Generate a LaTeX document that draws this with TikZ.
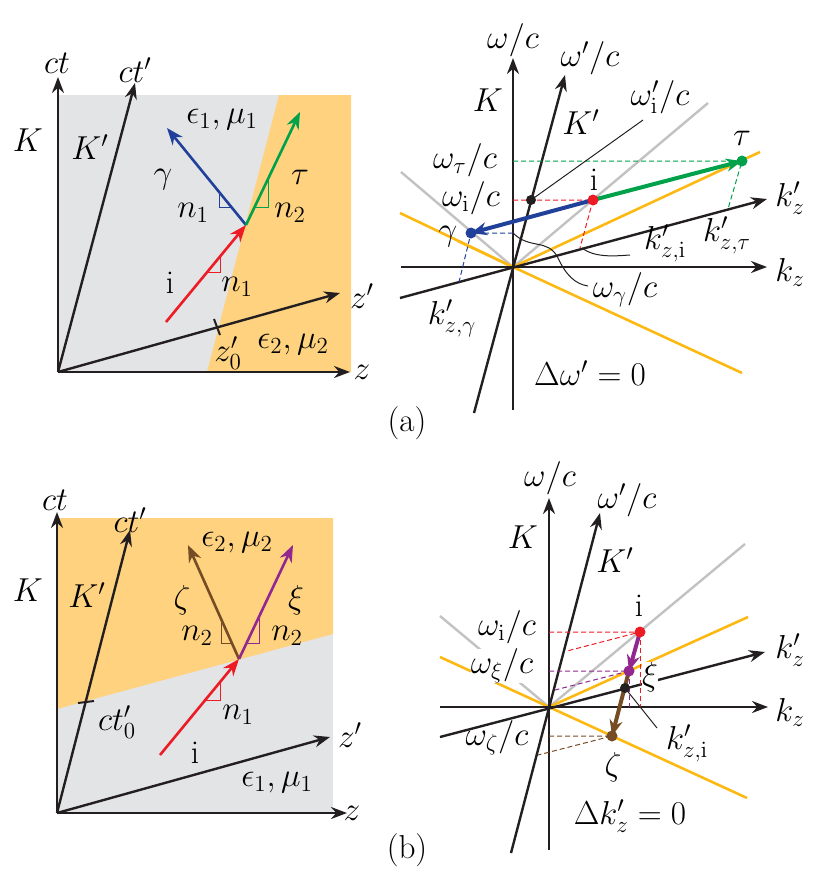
\documentclass[tikz,border=0pt]{standalone}
\usetikzlibrary{arrows.meta}
\definecolor{bgray}{HTML}{E3E4E6}
\definecolor{bor}{HTML}{FED27F}
\definecolor{lor}{HTML}{FDB913}
\definecolor{cred}{HTML}{ED1C24}
\definecolor{cblue}{HTML}{21409A}
\definecolor{cgreen}{HTML}{00A14B}
\definecolor{cpurp}{HTML}{92278F}
\definecolor{cbrown}{HTML}{754C24}
\definecolor{cone}{HTML}{C2C2C2}
\definecolor{ink}{HTML}{231F20}
\begin{document}
\begin{tikzpicture}[x=1pt,y=-1pt,
  ax/.style={draw=ink,line width=2.4pt,-{Stealth[length=16pt,width=12pt]}},
  axl/.style={draw=ink,line width=2pt},
  ray/.style={line width=2.6pt,-{Stealth[length=17pt,width=13pt]}},
  kray/.style={line width=4pt,-{Stealth[length=16pt,width=13pt]}},
  ra/.style={line width=1pt},
  dsh/.style={dashed,line width=1pt,dash pattern=on 5pt off 3pt},
  conel/.style={draw=cone,line width=2.4pt},
  orl/.style={draw=lor,line width=2.6pt},
  dot/.style={circle,inner sep=0pt,minimum size=11pt},
  lb/.style={inner sep=0.6pt,scale=1.6,font=\fontsize{20.74}{25}\selectfont},
  wl/.style={lb,fill=white,inner sep=0pt}]
\useasboundingbox (0,0) rectangle (832,876);
% ================= (a) left
\fill[bgray] (58,95) rectangle (351,372);
\fill[bor] (279,95) -- (351,95) -- (351,372) -- (207,372) -- cycle;
\coordinate (Oa) at (58,372);
\coordinate (cta) at (58,77);
\coordinate (ctpa) at (135,83);
\coordinate (za) at (350,372);
\coordinate (zpa) at (340,293);
\draw[ax] (Oa) -- (cta);
\draw[ax] (Oa) -- (ctpa);
\draw[ax] (Oa) -- (za);
\draw[ax] (Oa) -- (zpa);
\coordinate (t1) at (214,319); \coordinate (t2) at (220,335);
\draw[axl] (t1) -- (t2);
\coordinate (Pa) at (246,225);
\coordinate (ia) at (166,322);
\coordinate (ga) at (167,128);
\coordinate (ta) at (300,112);
\draw[ray,cred] (ia) -- (Pa);
\draw[ray,cblue] (Pa) -- (ga);
\draw[ray,cgreen] (Pa) -- (ta);
\draw[ra,cblue] (219,192) -- (219,207) -- (231,207);
\draw[ra,cgreen] (255,207) -- (268,207) -- (268,180);
\draw[ra,cred] (207,272) -- (220,272) -- (220,257);
\node[lb] (Lcta) at (57,63) {$ct$};
\node[lb] (Lctpa) at (135,70) {$ct'$};
\node[lb] (LKa) at (28,140) {$K$};
\node[lb] (LKpa) at (90,147) {$K'$};
\node[lb] (Le1a) at (222,120) {$\epsilon_1,\mu_1$};
\node[lb] (Lga) at (163,180) {$\gamma$};
\node[lb] (Ltaua) at (300,177) {$\tau$};
\node[lb] (Ln1a) at (193,213) {$n_1$};
\node[lb] (Ln2a) at (290,213) {$n_2$};
\node[lb] (Lia) at (170,283) {i};
\node[lb] (Ln1b) at (237,287) {$n_1$};
\node[lb] (Lzpa) at (362,296) {$z'$};
\node[lb] (Lz0a) at (228,353) {$z'_0$};
\node[lb] (Le2a) at (293,345) {$\epsilon_2,\mu_2$};
\node[lb] (Lza) at (362,372) {$z$};
% ================= (a) right
\coordinate (O2) at (513,267);
\draw[conel] (401,172) -- (O2) -- (708,103);
\draw[orl] (400,213) -- (O2) -- (742,373);
\draw[orl] (458,241) -- (O2) -- (760,152);
\draw[ax] (513,410) -- (513,58);
\draw[ax] (401,267) -- (767,267);
\draw[ax] (474,413) -- (565,75);
\draw[ax] (400,298) -- (767,199);
\coordinate (tau2) at (742,161);
\coordinate (i2) at (593,200);
\coordinate (g2) at (471,233);
\coordinate (b2) at (531,200);
\draw[dsh,cgreen] (513,161) -- (tau2) -- (728,209);
\draw[dsh,cred] (513,200) -- (i2) -- (580,248);
\draw[dsh,cblue] (513,233) -- (g2) -- (459,282);
\draw[line width=1pt,ink] (b2) -- (643,120);
\draw[line width=1pt,ink] (513,233) .. controls (530,250) and (548,238) .. (558,258) .. controls (566,275) and (575,284) .. (588,286);
\draw[line width=1pt,ink] (582,248) .. controls (595,258) and (615,256) .. (630,255);
\draw[kray,cgreen] (i2) -- (tau2);
\draw[kray,cblue] (i2) -- (g2);
\node[dot,fill=cgreen] (Dtau) at (tau2) {};
\node[dot,fill=cred] (Di2) at (i2) {};
\node[dot,fill=cblue] (Dg2) at (g2) {};
\node[dot,fill=ink,minimum size=10pt] (Db2) at (b2) {};
\node[lb] (Lw2) at (513,40) {$\omega/c$};
\node[lb] (Lwp2) at (590,58) {$\omega'/c$};
\node[lb] (LK2) at (488,100) {$K$};
\node[lb] (LKp2) at (581,122) {$K'$};
\node[lb] (Lwpi2) at (660,97) {$\omega'_{\mathrm{i}}/c$};
\node[lb] (Ltau2) at (742,138) {$\tau$};
\node[lb] (Li2) at (594,180) {i};
\node[lb] (Lg2) at (448,237) {$\gamma$};
\node[lb] (Lwt2) at (465,160) {$\omega_\tau/c$};
\node[lb] (Lwi2) at (471,198) {$\omega_{\mathrm{i}}/c$};
\node[lb] (Lkpz2) at (790,198) {$k'_z$};
\node[lb] (Lkz2) at (790,272) {$k_z$};
\node[lb] (Lkt2) at (727,235) {$k'_{z,\tau}$};
\node[lb] (Lki2) at (665,243) {$k'_{z,\mathrm{i}}$};
\node[lb] (Lwg2) at (625,290) {$\omega_\gamma/c$};
\node[lb] (Lkg2) at (452,318) {$k'_{z,\gamma}$};
\node[lb] (Ld2) at (590,373) {$\Delta\omega'=0$};
\node[lb] (La) at (407,423) {(a)};
% ================= (b) left
\fill[bgray] (57,518) rectangle (333,813);
\fill[bor] (57,518) -- (333,518) -- (333,634) -- (57,709) -- cycle;
\coordinate (Ob) at (57,813);
\draw[ax] (Ob) -- (57,512);
\draw[ax] (Ob) -- (130,530);
\draw[ax] (Ob) -- (347,813);
\draw[ax] (Ob) -- (330,737);
\draw[axl] (78,703) -- (94,701);
\coordinate (Pb) at (239,659);
\coordinate (ib) at (160,755);
\coordinate (zb) at (188,545);
\coordinate (xb) at (293,545);
\draw[ray,cred] (ib) -- (Pb);
\draw[ray,cbrown] (Pb) -- (zb);
\draw[ray,cpurp] (Pb) -- (xb);
\draw[ra,cbrown] (221,619) -- (221,643) -- (232,643);
\draw[ra,cpurp] (247,643) -- (259,643) -- (259,617);
\draw[ra,cred] (205,700) -- (220,700) -- (220,682);
\node[lb] (Lctb) at (55,500) {$ct$};
\node[lb] (Lctpb) at (130,520) {$ct'$};
\node[lb] (LKb) at (28,590) {$K$};
\node[lb] (LKpb) at (87,595) {$K'$};
\node[lb] (Le2b) at (237,543) {$\epsilon_2,\mu_2$};
\node[lb] (Lzb) at (182,600) {$\zeta$};
\node[lb] (Lxb) at (296,600) {$\xi$};
\node[lb] (Ln2l) at (197,636) {$n_2$};
\node[lb] (Ln2r) at (287,636) {$n_2$};
\node[lb] (Ln1bb) at (238,715) {$n_1$};
\node[lb] (Lct0) at (117,722) {$ct'_0$};
\node[lb] (Lib) at (195,753) {i};
\node[lb] (Le1b) at (277,783) {$\epsilon_1,\mu_1$};
\node[lb] (Lzpb) at (350,735) {$z'$};
\node[lb] (Lzzb) at (352,813) {$z$};
% ================= (b) right
\coordinate (O3) at (549,707);
\draw[conel] (440,616) -- (O3) -- (745,544);
\draw[orl] (440,657) -- (O3) -- (747,798);
\draw[orl] (O3) -- (748,617);
\draw[ax] (549,850) -- (549,498);
\draw[ax] (440,707) -- (768,707);
\draw[ax] (511,853) -- (600,513);
\draw[ax] (440,737) -- (765,652);
\coordinate (i3) at (640,632);
\coordinate (x3) at (629,671);
\coordinate (b3) at (625,688);
\coordinate (z3) at (612,736);
\draw[dsh,cred] (549,632) -- (i3) -- (567,651);
\draw[dsh,cred] (i3) -- (640,707);
\draw[dsh,cpurp] (549,671) -- (x3) -- (555,690);
\draw[dsh,cpurp] (x3) -- (629,707);
\draw[dsh,cbrown] (549,736) -- (z3) -- (538,755);
\draw[line width=1pt,ink] (b3) -- (657,728);
\node[wl] (Lx3) at (650,677) {$\xi$};
\node[wl] (Lwx3) at (502,666) {$\omega_\xi/c$};
\draw[kray,cpurp] (i3) -- (x3);
\draw[kray,cbrown] (x3) -- (z3);
\node[dot,fill=cred] (Di3) at (i3) {};
\node[dot,fill=cpurp] (Dx3) at (x3) {};
\node[dot,fill=ink,minimum size=10pt] (Db3) at (b3) {};
\node[dot,fill=cbrown] (Dz3) at (z3) {};
\node[lb] (Lw3) at (550,478) {$\omega/c$};
\node[lb] (Lwp3) at (627,500) {$\omega'/c$};
\node[lb] (LK3) at (523,537) {$K$};
\node[lb] (LKp3) at (615,560) {$K'$};
\node[lb] (Li3) at (639,606) {i};
\node[lb] (Lwi3) at (507,627) {$\omega_{\mathrm{i}}/c$};
\node[lb] (Lwz3) at (497,738) {$\omega_\zeta/c$};
\node[lb] (Lz3) at (613,767) {$\zeta$};
\node[lb] (Lkpz3) at (790,650) {$k'_z$};
\node[lb] (Lkz3) at (790,712) {$k_z$};
\node[lb] (Lki3) at (687,743) {$k'_{z,\mathrm{i}}$};
\node[lb] (Ld3) at (630,816) {$\Delta k'_z=0$};
\node[lb] (Lb) at (407,850) {(b)};
\end{tikzpicture}
\end{document}
